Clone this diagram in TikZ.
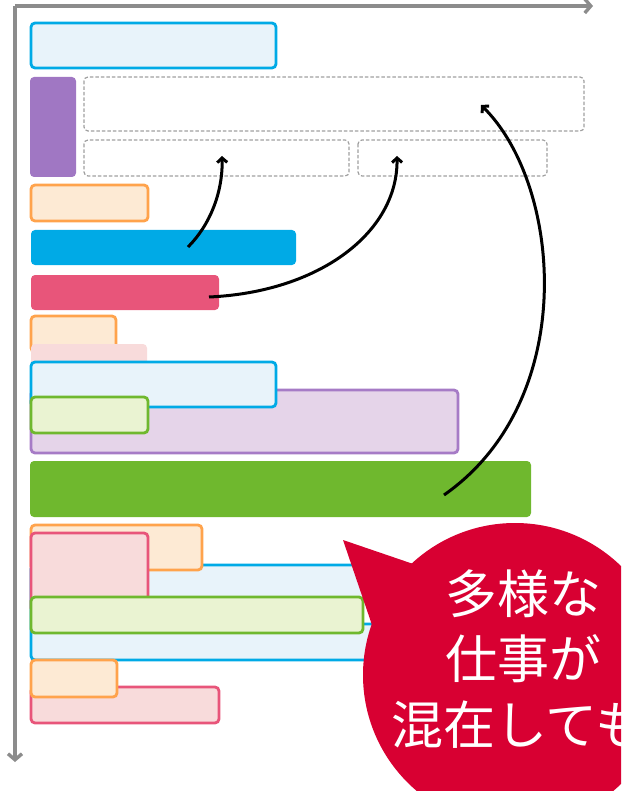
\documentclass[tikz,border=0pt]{standalone}
\usepackage{fontspec}
\newfontfamily\cjk{Noto Sans CJK JP}
\usetikzlibrary{arrows.meta}
\definecolor{cyanS}{HTML}{00AAE6}
\definecolor{blueF}{HTML}{E8F3FA}
\definecolor{purpS}{HTML}{A077C3}
\definecolor{purpL}{HTML}{E5D4E9}
\definecolor{purpD}{HTML}{A67BC6}
\definecolor{oranS}{HTML}{FFA34C}
\definecolor{oranF}{HTML}{FDEAD4}
\definecolor{pinkS}{HTML}{E8557A}
\definecolor{pinkF}{HTML}{F8DBDB}
\definecolor{greenS}{HTML}{6FB82E}
\definecolor{greenF}{HTML}{EAF3D2}
\definecolor{bubble}{HTML}{D80032}
\definecolor{axisG}{HTML}{8C8C8C}
\definecolor{slotG}{HTML}{A0A0A0}
\newcommand{\bx}[6]{\path[#2] (#3,#4) rectangle (#5,#6);
  \coordinate (#1) at ({(#3+#5)/2},{(#4+#6)/2});}
\begin{document}
\begin{tikzpicture}[x=1pt,y=-1pt,
  bar/.style={rounded corners=4pt,line width=2.8pt},
  lblue/.style={bar,draw=cyanS,fill=blueF},
  wblue/.style={bar,draw=cyanS,fill=white},
  cyanbar/.style={bar,fill=cyanS},
  purpbar/.style={bar,fill=purpS},
  lpurp/.style={bar,draw=purpD,fill=purpL},
  lorange/.style={bar,draw=oranS,fill=oranF},
  pinkbar/.style={bar,fill=pinkS},
  lpink/.style={bar,draw=pinkS,fill=pinkF},
  palepink/.style={bar,fill=pinkF},
  greenbar/.style={bar,fill=greenS},
  lgreen/.style={bar,draw=greenS,fill=greenF},
  slot/.style={rounded corners=4pt,draw=slotG,line width=1.2pt,dash pattern=on 3.5pt off 2pt},
  axis/.style={draw=axisG,line width=3.6pt,-{Straight Barb[length=6pt,width=14pt,line width=3.4pt]}},
  conn/.style={draw=black,line width=3pt,-{Straight Barb[length=4.5pt,width=10pt,line width=3pt]}},
  btxt/.style={text=white,font=\cjk\fontsize{52}{56}\selectfont,inner sep=0pt}]
\useasboundingbox (0,0) rectangle (621,791);
\clip (0,0) rectangle (621,791);
% axes
\coordinate (o) at (15,6);
\coordinate (xe) at (593,6);
\coordinate (ye) at (15,762);
\draw[axis] (o) -- (xe);
\draw[axis] (o) -- (ye);
% bars
\bx{b1}{lblue}{31}{23}{276}{68}
\bx{b2}{purpbar}{30}{77}{76}{177}
\bx{s1}{slot}{84}{77}{584}{131}
\bx{s2}{slot}{84}{140}{349}{176}
\bx{s3}{slot}{358}{140}{547}{176}
\bx{b3}{lorange}{31}{185}{148}{221}
\bx{b4}{cyanbar}{31}{230}{296}{265}
\bx{b5}{pinkbar}{31}{275}{219}{310}
\bx{b6}{lorange}{31}{316}{116}{352}
\bx{b7}{palepink}{31}{344}{147}{380}
\bx{b8}{lpurp}{31}{390}{458}{453}
\bx{b9}{lblue}{31}{362}{276}{407}
\bx{b10}{lgreen}{31}{397}{148}{433}
\bx{b11}{greenbar}{30}{461}{531}{517}
\bx{b12}{lblue}{31}{565}{440}{660}
\bx{b13}{wblue}{150}{600}{440}{624}
\bx{b14}{lorange}{31}{525}{202}{570}
\bx{b15}{lpink}{31}{533}{148}{612}
\bx{b16}{lgreen}{31}{597}{363}{633}
\bx{b17}{lpink}{31}{687}{219}{723}
\bx{b18}{lorange}{31}{660}{117}{697}
% connectors
\coordinate (a1s) at (188,247);
\coordinate (a1e) at (222,156);
\coordinate (a2s) at (209,297);
\coordinate (a2e) at (397,156);
\coordinate (a3s) at (444,495);
\coordinate (a3e) at (481,105);
\draw[conn] (a1s) .. controls (210,225) and (223,192) .. (a1e);
\draw[conn] (a2s) .. controls (320,292) and (398,232) .. (a2e);
\draw[conn] (a3s) .. controls (580,400) and (562,185) .. (a3e);
% bubble
\fill[bubble] (515,675) circle (152);
\fill[bubble] (343,540) -- (425,568) -- (372,625) -- cycle;
\node[btxt] (t1) at (523,594) {多様な};
\node[btxt] (t2) at (523,659) {仕事が};
\node[btxt,anchor=west] (t3) at (391,725) {混在しても};
\end{tikzpicture}
\end{document}
